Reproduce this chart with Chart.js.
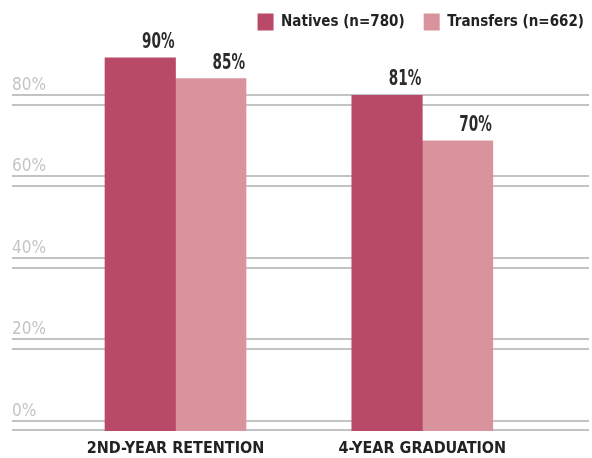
<!DOCTYPE html>
<html>
<head>
<meta charset="utf-8">
<script src="https://cdn.jsdelivr.net/npm/chart.js"></script>
<style>
    html, body { margin: 0; padding: 0; background: #fff; }
</style>
</head>
<body>
<canvas id="gradChart" width="592" height="458"></canvas>
<script>
    // Kategorier og verdier (prosent)
    const categories = ['2ND-YEAR RETENTION', '4-YEAR GRADUATION'];
    const seriesLabels = ['Natives (n=780)', 'Transfers (n=662)'];
    const natives = [90, 81];
    const transfers = [85, 70];
    const yTicks = [0, 20, 40, 60, 80];

    const fontFamily = "'DejaVu Sans Condensed', 'Liberation Sans Narrow', sans-serif";

    // Etiketter over stolpene (smal skrift, skalert horisontalt)
    const valueLabels = {
        id: 'valueLabels',
        afterDatasetsDraw(chart) {
            const ctx = chart.ctx;
            chart.data.datasets.forEach((ds, i) => {
                chart.getDatasetMeta(i).data.forEach((bar, j) => {
                    ctx.save();
                    ctx.font = 'bold 21px ' + fontFamily;
                    ctx.fillStyle = '#2b2b2b';
                    ctx.textAlign = 'right';
                    ctx.textBaseline = 'alphabetic';
                    ctx.translate(bar.x + bar.width / 2 - 1, bar.y - 10);
                    ctx.scale(0.72, 1);
                    ctx.fillText(ds.data[j].y + '%', 0, 0);
                    ctx.restore();
                });
            });
        }
    };

    // Doble rutenettlinjer: to akser med litt forskjellig utgangspunkt
    const gridAxis = (min, max, showLabels) => ({
        type: 'linear',
        position: 'left',
        bounds: 'data',
        min: min,
        max: max,
        afterBuildTicks: axis => { axis.ticks = yTicks.map(v => ({ value: v })); },
        grid: { color: '#c3c3c7', lineWidth: 2, drawTicks: false },
        border: { display: false },
        ticks: {
            display: showLabels,
            mirror: true,
            padding: 0,
            labelOffset: -9.5,
            color: '#c4c4c4',
            font: { family: fontFamily, size: 17 },
            callback: v => v + '%'
        }
    });

    const chart = new Chart(document.getElementById('gradChart'), {
        type: 'bar',
        data: {
            datasets: [{
                label: seriesLabels[0],
                data: natives.map((v, i) => ({ x: i, y: v })),
                backgroundColor: '#b94a67',
                yAxisID: 'y'
            }, {
                label: seriesLabels[1],
                data: transfers.map((v, i) => ({ x: i, y: v })),
                backgroundColor: '#d8939c',
                yAxisID: 'y'
            }]
        },
        options: {
            responsive: false,
            animation: false,
            barThickness: 70.5,
            layout: { padding: { top: 8.5, left: 12, right: 3, bottom: 0 } },
            plugins: {
                tooltip: { enabled: false },
                legend: {
                    position: 'top',
                    align: 'end',
                    labels: {
                        boxWidth: 16,
                        boxHeight: 17,
                        padding: 5,
                        color: '#222',
                        font: { family: fontFamily, size: 15, weight: 'bold' },
                        generateLabels: c => Chart.defaults.plugins.legend.labels.generateLabels(c)
                            .map((item, i) => ({ ...item, text: i === 0 ? item.text + '   ' : item.text }))
                    }
                }
            },
            scales: {
                x: {
                    type: 'linear',
                    offset: false,
                    bounds: 'data',
                    min: -0.6625,
                    max: 1.6754,
                    afterBuildTicks: axis => { axis.ticks = categories.map((c, i) => ({ value: i })); },
                    afterFit: axis => { axis.height = 27; },
                    grid: { display: false, drawTicks: false },
                    border: { display: false },
                    ticks: {
                        padding: 8,
                        color: '#222',
                        font: { family: fontFamily, size: 16, weight: 'bold' },
                        callback: v => categories[v]
                    }
                },
                yg: gridAxis(-2.454, 93.37, true),
                yg2: gridAxis(-0.246, 95.88, false),
                y: { type: 'linear', display: false, bounds: 'data', min: 0, max: 94.2 }
            }
        },
        plugins: [valueLabels]
    });
</script>
</body>
</html>
